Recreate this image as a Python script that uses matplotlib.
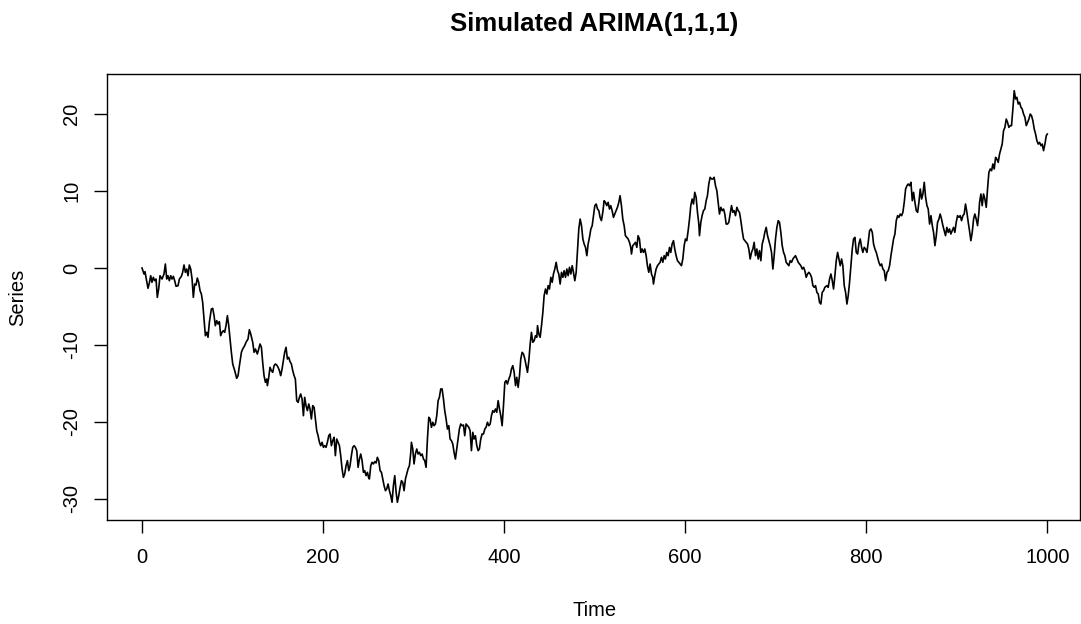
import matplotlib
matplotlib.use("Agg")
import matplotlib.pyplot as plt

plt.rcParams['font.family'] = ['Liberation Sans', 'DejaVu Sans']

title = "Simulated ARIMA(1,1,1)"
x_label = "Time"
y_label = "Series"
x_ticks = [0, 200, 400, 600, 800, 1000]
y_ticks = [-30, -20, -10, 0, 10, 20]

time = [
    0, 2.2, 3.3, 4.4, 6.6, 8.1, 9.6, 11.0, 12.5, 14.0, 15.5, 16.9, 18.4, 19.9, 22.1, 24.3,
    25.8, 27.3, 28.7, 30.2, 31.7, 33.1, 34.6, 36.1, 37.6, 39.8, 41.3, 43.5, 44.9, 46.4, 47.9,
    49.4, 50.8, 52.3, 53.8, 55.3, 56.7, 58.2, 59.7, 61.1, 62.6, 64.1, 65.6, 67.0, 68.5, 70.0,
    71.5, 72.9, 74.4, 76.6, 78.1, 79.6, 81.0, 82.5, 84.0, 85.5, 86.9, 88.4, 89.9, 91.3, 92.8,
    94.3, 95.8, 97.2, 98.7, 100.2, 102.4, 104.6, 106.1, 107.6, 109.8, 111.2, 113.4, 114.9,
    117.1, 118.6, 120.1, 122.3, 123.8, 125.2,
    127.4, 128.9, 130.4, 131.9, 133.3, 134.8, 136.3, 137.8, 138.5, 140.0, 141.4, 142.9, 144.4,
    145.9, 147.3, 148.8, 150.3, 151.8, 153.2, 154.7, 156.2, 157.6, 159.1, 160.6, 162.1, 163.5,
    165.0, 166.5, 168.0, 169.4, 170.9, 172.4, 173.9, 175.3, 176.8, 178.3, 179.7, 181.2, 182.7,
    184.2, 185.6, 187.1, 188.6, 190.1, 191.5, 193.0, 194.5, 196.0, 197.4, 198.9, 200.4, 201.8,
    203.3, 204.8, 206.3, 207.7, 209.2, 210.7, 212.2, 213.6, 215.1, 216.6, 218.1, 219.5, 221.0,
    222.5, 223.9, 225.4, 226.9, 228.4, 229.8, 231.3, 232.8, 234.3, 235.7, 237.2, 238.7, 240.2,
    241.6, 243.1, 244.6, 246.0, 247.5, 249.0, 250.5,
    251.2, 252.7, 254.1, 255.6, 257.1, 258.6, 260.0, 261.5, 263.0, 264.5, 265.9, 267.4, 268.9,
    270.3, 271.8, 273.3, 274.8, 276.2, 277.7, 279.2, 280.7, 282.1, 283.6, 285.1, 286.6, 288.0,
    289.5, 291.0, 292.4, 293.9, 295.4, 296.9, 297.6, 299.1, 300.5, 302.0, 303.5, 305.0, 306.4,
    307.9, 309.4, 310.9, 312.3, 313.8, 315.3, 316.8, 318.2, 319.7, 321.2, 322.6, 324.1, 325.6,
    327.1, 328.5, 330.0, 331.5, 333.0, 334.4, 335.9, 337.4, 338.9, 340.3, 341.8, 343.3, 344.7,
    346.2, 347.7, 349.2, 350.6, 352.1, 353.6, 355.1, 356.5, 358.0, 359.5, 361.0, 362.4, 363.9,
    365.4, 366.8, 368.3, 369.8, 371.3, 372.7, 374.2, 375.7, 377.2,
    378.7, 380.1, 381.6, 383.1, 384.6, 386.0, 387.5, 389.0, 390.5, 391.9, 393.4, 394.9, 396.3,
    397.8, 399.3, 400.8, 402.2, 403.7, 405.2, 406.7, 408.1, 409.6, 411.1, 412.6, 414.0, 415.5,
    417.0, 418.4, 419.9, 421.4, 422.9, 424.3, 425.8, 427.3, 428.8, 430.2, 431.7, 433.2, 434.7,
    436.1, 436.9, 438.3, 439.8, 441.3, 442.8, 444.2, 445.7, 447.2, 448.6, 450.1, 451.6, 453.1,
    454.5, 456.0, 457.5, 459.0, 460.4, 461.9, 463.4, 464.9, 466.3, 467.8, 469.3, 470.7, 472.2,
    473.7, 475.2, 476.6, 478.1, 479.6, 481.1, 482.5, 484.0, 485.5, 487.0, 488.4, 489.9, 491.4,
    492.8, 494.3, 495.8, 497.3, 498.7, 500.2, 501.7, 503.2,
    504.6, 506.0, 507.5, 509.0, 510.5, 511.9, 513.4, 514.9, 516.4, 517.8, 519.3, 520.8, 522.2,
    523.7, 525.2, 526.7, 528.1, 529.6, 531.1, 532.6, 534.0, 535.5, 537.0, 538.5, 539.9, 540.7,
    542.1, 543.6, 545.1, 546.6, 548.0, 549.5, 551.0, 552.4, 553.9, 555.4, 556.9, 558.3, 559.8,
    561.3, 562.8, 564.2, 565.0, 566.4, 567.9, 569.4, 570.9, 572.3, 573.8, 575.3, 576.8, 578.2,
    579.7, 581.2, 582.7, 584.1, 585.6, 587.1, 588.5, 590.0, 591.5, 593.0, 594.4, 595.9, 597.4,
    598.9, 600.3, 601.8, 603.3, 604.8, 606.2, 607.7, 609.2, 610.6, 612.1, 613.6, 615.1, 615.8,
    617.3, 618.7, 620.2, 621.7, 623.2, 624.6, 626.1, 627.6, 629.1,
    630.6, 632.0, 633.5, 635.0, 636.5, 637.9, 639.4, 640.9, 642.4, 643.8, 645.3, 646.8, 648.2,
    649.7, 651.2, 652.7, 654.1, 655.6, 657.1, 658.6, 660.0, 661.5, 663.0, 664.5, 665.9, 667.4,
    668.9, 670.3, 671.8, 673.3, 674.8, 676.2, 677.7, 679.2, 680.7, 682.1, 683.6, 685.1, 686.6,
    688.0, 689.5, 691.0, 692.4, 693.9, 695.4, 696.9, 698.3, 699.8, 701.3, 702.8, 704.2, 705.7,
    707.2, 708.7, 710.1, 711.6, 713.1, 714.5, 716.0, 717.5, 719.0, 720.4, 721.9, 723.4, 724.9,
    726.3, 727.8, 729.3, 730.8, 732.2, 733.7, 735.2, 736.6, 738.1, 739.6, 741.1, 742.5, 744.0,
    745.5, 747.0, 748.4, 749.9, 751.4, 752.9, 754.3,
    756.6, 758.0, 759.5, 761.0, 762.5, 763.9, 765.4, 766.9, 768.4, 769.8, 771.3, 772.8, 774.2,
    775.7, 777.2, 778.7, 780.1, 781.6, 783.1, 784.6, 786.0, 787.5, 789.0, 790.5, 791.9, 793.4,
    794.9, 796.3, 797.8, 799.3, 800.8, 802.2, 803.7, 805.2, 806.7, 808.1, 809.6, 811.1, 812.6,
    814.0, 815.5, 817.0, 818.4, 819.9, 821.4, 822.9, 824.3, 825.8, 827.3, 828.8, 830.2, 831.7,
    833.2, 834.7, 836.1, 837.6, 839.1, 840.5, 842.0, 843.5, 845.0, 846.4, 847.9, 849.4, 850.9,
    852.3, 853.8, 855.3, 856.8, 858.2, 859.7, 861.2, 862.6, 864.1, 865.6, 867.1, 868.5, 870.0,
    871.5, 873.0, 874.4, 875.9, 877.4,
    878.8, 880.3, 881.7, 883.2, 884.7, 886.1, 887.6, 889.1, 890.6, 892.0, 893.5, 895.0, 896.5,
    897.9, 899.4, 900.9, 902.4, 903.8, 905.3, 906.8, 908.2, 909.7, 911.2, 912.7, 914.1, 915.6,
    917.1, 918.6, 920.0, 921.5, 923.0, 924.5, 925.2, 926.7, 928.1, 929.6, 931.1, 932.6, 934.0,
    935.5, 937.0, 938.5, 939.9, 941.4, 942.9, 944.3, 945.8, 947.3, 948.8, 950.2, 951.7, 953.2,
    954.7, 956.1, 957.6, 959.1, 960.5, 962.0, 963.5, 965.0, 966.4, 967.9, 969.4, 970.9, 972.3,
    973.8, 975.3, 976.8, 978.2, 979.7, 981.2, 982.6, 984.1, 985.6, 987.1, 988.5, 990.0, 991.5,
    993.0, 994.4, 995.9, 997.4, 998.9, 1000.0,
]

series = [
    0.0, -0.78, -0.48, -1.21, -2.64, -1.95, -1.0, -1.86, -1.21, -1.65, -1.43, -3.81, -2.73, -1.0, -1.43, -0.78,
    0.52, -1.43, -1.0, -1.65, -1.0, -1.43, -1.08, -1.65, -2.38, -2.30, -1.43, -1.08, -0.56, 0.39, -0.56,
    -0.13, -1.0, 0.39, -0.13, -1.43, -3.81, -2.08, -2.21, -1.3, -1.86, -2.94, -3.38, -4.46, -6.62, -8.79,
    -8.35, -9.0, -7.06, -5.33, -5.24, -6.19, -7.49, -6.84, -7.27, -6.97, -8.79, -8.35, -8.14, -8.35, -7.49,
    -6.19, -7.49, -9.22, -10.95, -12.47, -13.33, -14.33, -13.98, -12.69, -10.95, -10.52, -10.09, -9.65,
    -9.22, -8.01, -8.57, -9.65, -10.95, -10.52,
    -11.17, -10.52, -9.87, -10.30, -12.25, -13.98, -14.85, -14.42, -15.28, -14.2, -12.9, -13.33, -13.55,
    -12.68, -12.47, -12.6, -12.9, -13.33, -13.98, -13.12, -12.03, -10.95, -10.3, -11.82, -11.6, -12.16,
    -12.47, -13.33, -13.98, -14.42, -17.23, -17.45, -16.8, -16.36, -17.01, -19.18, -16.8, -17.88, -18.53,
    -17.66, -18.31, -19.61, -17.88, -18.1, -19.61, -21.13, -21.78, -22.64, -23.08, -22.64, -23.29, -23.08,
    -23.29, -22.64, -21.78, -21.56, -23.08, -22.42, -21.99, -24.37, -22.21, -22.64, -23.08, -24.37, -26.1,
    -27.19, -26.75, -25.67, -25.02, -26.32, -25.67, -24.37, -23.29, -23.08, -23.29, -23.72, -25.89, -24.81,
    -24.16, -25.02, -26.54, -26.32, -26.97, -26.54, -27.32,
    -27.4, -25.67, -25.24, -25.45, -25.15, -25.32, -24.59, -25.02, -26.32, -26.54, -27.4, -28.27, -28.92,
    -28.7, -28.05, -28.92, -29.57, -30.43, -28.27, -26.97, -29.13, -30.43, -29.57, -28.48, -27.62, -27.84,
    -28.92, -27.4, -26.75, -26.1, -25.67, -23.94, -22.64, -23.51, -25.45, -24.16, -23.51, -24.16, -23.94,
    -24.37, -24.16, -24.81, -25.02, -25.89, -22.21, -19.39, -19.61, -20.69, -20.04, -20.48, -20.26, -19.18,
    -17.23, -16.8, -15.71, -15.71, -17.01, -18.53, -19.61, -20.91, -20.48, -22.21, -22.42, -22.86, -23.94,
    -24.81, -23.51, -22.21, -20.91, -20.26, -20.48, -20.39, -21.78, -20.26, -20.48, -20.69, -21.13, -23.72,
    -21.34, -22.21, -21.78, -23.07, -23.72, -23.51, -22.21, -21.56, -21.56,
    -20.91, -20.69, -20.04, -20.48, -20.26, -19.18, -18.53, -18.74, -18.31, -18.74, -17.23, -18.31, -19.18,
    -20.48, -17.88, -14.85, -14.63, -15.07, -14.42, -13.98, -13.12, -12.68, -13.55, -15.28, -14.2, -15.5,
    -13.98, -11.82, -10.95, -11.17, -11.82, -12.68, -13.55, -12.03, -9.87, -8.36, -9.65, -9.44, -8.79,
    -9.0, -7.49, -8.57, -9.0, -7.49, -5.76, -3.59, -2.73, -3.38, -2.29, -2.73, -1.21, -1.86,
    -0.78, -0.13, 0.74, -0.35, -0.78, -2.08, -0.56, -1.21, -0.35, -1.21, -0.13, -1.0, 0.09,
    -0.78, 0.3, -0.56, -1.65, -0.56, 2.47, 5.06, 6.36, 5.5, 3.77, 3.12, 2.68, 1.6,
    3.12, 3.98, 5.06, 5.5, 6.8, 8.1, 8.31, 7.66,
    7.45, 6.58, 6.15, 7.23, 8.74, 8.53, 8.1, 8.53, 7.66, 8.1, 7.45, 6.58, 7.01,
    7.45, 7.88, 8.53, 9.39, 8.1, 6.36, 5.5, 4.2, 3.98, 3.77, 3.33, 2.68, 1.82,
    2.9, 3.12, 3.33, 2.68, 4.2, 3.77, 2.03, 2.47, 2.03, 2.47, 1.6, 0.3, -0.56,
    0.52, -0.78, -1.21, -2.08, -1.0, -0.13, 0.3, 0.52, 0.74, 1.39, 0.74, 1.6, 1.17,
    2.03, 1.6, 2.68, 2.03, 3.12, 3.55, 2.47, 1.6, 0.95, 0.74, 0.52, 0.3, 1.17,
    2.9, 3.77, 3.55, 4.85, 6.36, 8.1, 8.96, 8.31, 9.83, 9.18, 7.23, 5.71, 4.2,
    5.93, 6.8, 7.45, 7.66, 8.74, 9.39, 10.91, 11.78, 11.56,
    11.56, 11.78, 10.69, 10.04, 8.53, 7.01, 7.88, 7.45, 7.66, 7.01, 5.71, 5.71, 5.93,
    7.01, 8.1, 7.23, 7.45, 6.8, 7.88, 7.45, 7.23, 6.15, 4.85, 3.77, 3.55, 3.33,
    3.12, 2.47, 1.17, 2.03, 2.47, 3.33, 1.6, 2.47, 1.17, 2.25, 0.95, 3.12, 3.77,
    4.63, 5.28, 4.2, 3.55, 2.9, 2.03, -0.13, 1.6, 3.77, 5.28, 6.15, 5.93, 4.63,
    2.9, 2.03, 1.6, 0.74, 0.52, 0.3, 0.95, 0.74, 1.17, 1.39, 1.6, 1.17, 0.74,
    0.52, 0.3, -0.13, 0.09, -0.35, -1.21, -0.78, -0.56, -0.78, -1.21, -2.29, -2.51, -2.29,
    -3.16, -3.38, -4.46, -4.68, -3.16, -2.94, -2.51,
    -2.29, -2.51, -1.43, -0.78, -1.64, -2.73, -1.0, 0.95, 2.03, 1.17, 0.3, 1.17, 0.3,
    -2.29, -3.16, -4.68, -3.59, -1.86, 0.3, 2.47, 3.77, 3.98, 2.03, 1.82, 3.12, 3.77,
    2.68, 2.03, 2.68, 2.47, 2.03, 3.33, 4.85, 5.07, 4.63, 3.12, 2.47, 2.03, 1.39,
    0.74, 0.3, 0.52, -0.13, -0.35, -1.64, -0.56, -0.35, 0.3, 1.6, 2.68, 3.77, 4.42,
    6.15, 6.8, 6.58, 7.01, 6.8, 7.23, 8.53, 10.26, 10.69, 10.91, 10.69, 11.13, 8.74,
    9.83, 8.53, 7.45, 7.23, 8.53, 10.26, 8.96, 9.61, 11.13, 9.18, 8.1, 7.66, 5.71,
    6.8, 5.5, 4.63, 2.9, 4.2,
    5.93, 6.36, 7.01, 6.36, 5.5, 4.85, 4.2, 5.28, 4.63, 5.07, 4.42, 4.85, 5.28,
    4.63, 5.93, 6.8, 6.58, 6.8, 6.15, 6.8, 7.01, 8.31, 7.23, 5.93, 4.85, 3.55,
    4.63, 6.36, 7.01, 6.36, 5.5, 7.23, 8.53, 9.61, 8.1, 9.61, 8.96, 7.88, 10.26,
    12.42, 12.86, 12.64, 13.51, 12.86, 14.37, 14.16, 13.72, 14.81, 15.45, 16.1, 17.84, 18.27,
    19.35, 18.92, 18.27, 18.49, 18.49, 20.65, 23.03, 21.95, 22.17, 21.3, 21.52, 20.87, 20.65,
    20.0, 19.57, 18.49, 18.92, 19.35, 20.0, 19.78, 19.13, 18.05, 17.4, 16.54, 16.1, 16.32,
    15.89, 16.1, 15.24, 16.1, 17.19, 17.4,
]

W, H = 1081, 624
fig = plt.figure(figsize=(W / 100, H / 100), dpi=100)
left, right, top, bottom = 106.7, 1079.5, 74.3, 520.3
ax = fig.add_axes([left / W, 1 - bottom / H, (right - left) / W, (bottom - top) / H])

ax.plot(time, series, color='black', linewidth=1.2)

ax.set_xlim(-39.0, 1035.6)
ax.set_ylim(-32.77, 25.16)
ax.set_xticks(x_ticks)
ax.set_yticks(y_ticks)
ax.set_xticklabels([str(v) for v in x_ticks], fontsize=14.5)
ax.set_yticklabels([str(v) for v in y_ticks], fontsize=14.5, rotation=90, va='center')
ax.tick_params(axis='both', direction='out', length=9.7, width=1.0, color='black')
ax.tick_params(axis='x', pad=10.5)
ax.tick_params(axis='y', pad=8.5)
for s in ax.spines.values():
    s.set_linewidth(1.0)
    s.set_color('black')

fig.text(594 / W, 1 - 31 / H, title, ha='center', va='baseline', fontsize=18.5, fontweight='bold')
fig.text(595 / W, 1 - 610 / H, x_label, ha='center', va='center', fontsize=14.5)
fig.text(18 / W, 1 - 297 / H, y_label, ha='center', va='center', fontsize=14.5, rotation=90)

fig.savefig('out.png', dpi=100)
